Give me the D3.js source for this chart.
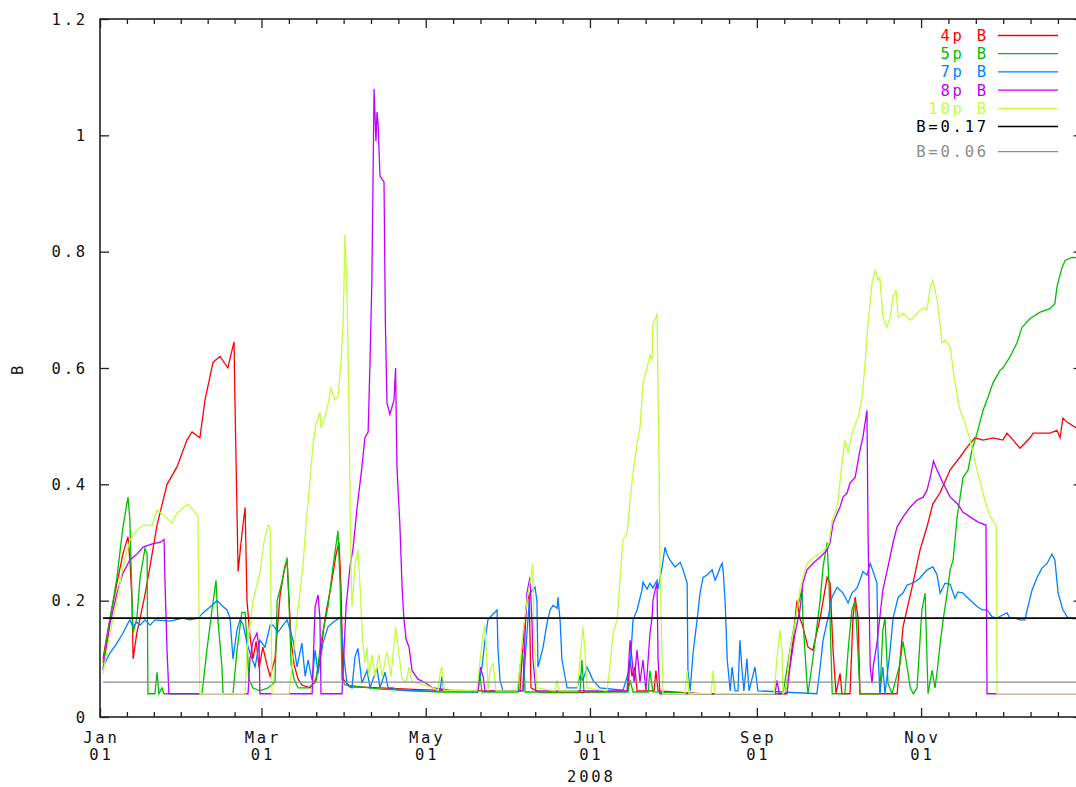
<!DOCTYPE html>
<html>
<head>
<meta charset="utf-8">
<script src="https://cdn.jsdelivr.net/npm/d3@7"></script>
<style>
  body { margin: 0; background: #fff; }
  svg text { font-family: "DejaVu Sans Mono", monospace; font-size: 15.5px; letter-spacing: 2.8px; }
  .axis line { stroke: #222; stroke-width: 1.3; }
</style>
</head>
<body>
<svg id="chart"></svg>
<script>
// values: [day of 2008 (0 = Jan 01), B]
const series4p = [[1.1,0.10],[3.7,0.17],[6.3,0.23],[8.5,0.28],[10.4,0.31],[11.1,0.27],[11.9,0.20],[12.3,0.10],[13.7,0.145],[14.9,0.17],[16.7,0.21],[18.6,0.26],[21.2,0.33],[24.9,0.40],[28.6,0.43],[32.3,0.476],[34.2,0.49],[37.1,0.48],[39.0,0.545],[42.0,0.61],[44.6,0.62],[47.5,0.60],[49.0,0.63],[49.8,0.645],[50.1,0.55],[50.9,0.35],[51.3,0.25],[52.4,0.30],[53.1,0.33],[53.9,0.36],[54.6,0.20],[55.7,0.14],[56.8,0.10],[58.0,0.13],[59.1,0.085],[60.5,0.12],[62.0,0.09],[63.2,0.07],[65.0,0.10],[66.9,0.21],[68.7,0.26],[69.5,0.266],[71.0,0.13],[72.1,0.09],[73.6,0.065],[75.0,0.055],[78.0,0.05],[80.2,0.065],[81.7,0.10],[83.6,0.17],[85.8,0.225],[87.7,0.28],[88.8,0.30],[89.5,0.225],[90.3,0.065],[92.9,0.052],[104,0.05],[118.9,0.047],[133.7,0.045],[156,0.045],[157.5,0.15],[158.6,0.20],[159.4,0.21],[159.7,0.145],[160.1,0.05],[163.4,0.042],[178.3,0.042],[196.1,0.045],[196.9,0.10],[197.6,0.07],[198.7,0.086],[199.5,0.045],[205.8,0.045],[206.5,0.08],[207.3,0.045],[222.9,0.04],[254.5,0.04],[256.3,0.09],[257.4,0.13],[258.9,0.20],[260,0.17],[261.1,0.155],[263.0,0.12],[264.8,0.115],[267.5,0.17],[270.1,0.24],[271.2,0.23],[272.3,0.115],[273.4,0.04],[274.9,0.075],[275.6,0.04],[278.6,0.04],[279.7,0.17],[280.5,0.206],[281.6,0.17],[282.3,0.04],[296.1,0.04],[298.3,0.155],[302.0,0.23],[304.6,0.287],[307.2,0.327],[309.4,0.367],[312.0,0.385],[315.8,0.425],[319.5,0.447],[322.1,0.464],[325.0,0.48],[328.0,0.476],[331.7,0.48],[335.4,0.476],[336.9,0.488],[339.2,0.476],[341.8,0.462],[345.5,0.48],[346.6,0.488],[352.9,0.488],[355.5,0.493],[356.6,0.48],[357.7,0.514],[359.2,0.507],[362.6,0.497],[364.8,0.495]];

const series5p = [[1.1,0.093],[3.7,0.167],[6.3,0.24],[8.5,0.326],[10.4,0.378],[11.1,0.34],[11.9,0.20],[12.3,0.145],[13.7,0.17],[14.9,0.24],[16.7,0.29],[17.5,0.28],[17.8,0.04],[20.4,0.04],[21.2,0.077],[21.9,0.04],[23.0,0.05],[23.8,0.04],[37.9,0.04],[39.7,0.115],[41.6,0.184],[43.1,0.235],[43.8,0.167],[45.3,0.086],[45.7,0.04],[49.4,0.04],[50.9,0.115],[52.7,0.18],[53.9,0.18],[54.6,0.13],[55.3,0.065],[56.8,0.05],[59.4,0.045],[62.4,0.05],[65.0,0.06],[65.8,0.20],[67.2,0.225],[69.5,0.274],[70.2,0.20],[71.0,0.09],[72.1,0.065],[73.6,0.05],[77.3,0.05],[80.2,0.06],[82.1,0.13],[84.7,0.19],[86.6,0.26],[88.4,0.32],[89.2,0.225],[89.9,0.065],[91.0,0.055],[104,0.048],[126.3,0.043],[140.4,0.043],[141.2,0.07],[141.9,0.043],[155.3,0.043],[156.0,0.086],[156.8,0.11],[157.5,0.086],[157.9,0.043],[178.3,0.043],[179.0,0.098],[179.8,0.043],[196.1,0.043],[196.9,0.063],[198.0,0.043],[203.6,0.043],[204.3,0.08],[205.4,0.043],[222.9,0.04],[253.7,0.04],[256.3,0.115],[258.9,0.184],[260.8,0.22],[261.1,0.17],[262.6,0.058],[263.0,0.04],[264.8,0.10],[267.5,0.20],[268.6,0.258],[270.1,0.30],[270.8,0.23],[272.0,0.04],[276.7,0.04],[277.9,0.115],[279.3,0.184],[280.5,0.20],[281.2,0.144],[282.3,0.04],[289.7,0.04],[290.8,0.15],[291.6,0.17],[292.7,0.058],[294.2,0.04],[297.1,0.09],[298.3,0.13],[299.8,0.086],[301.0,0.05],[302.1,0.04],[303.5,0.05],[305.3,0.184],[306.5,0.213],[307.2,0.10],[307.6,0.04],[309.1,0.08],[310.2,0.05],[311.0,0.08],[312.1,0.127],[313.2,0.167],[314.7,0.213],[315.8,0.253],[316.9,0.27],[318.4,0.344],[320.6,0.412],[322.4,0.424],[323.9,0.459],[325.8,0.488],[328.0,0.527],[329.9,0.55],[331.7,0.574],[334.3,0.596],[335.4,0.60],[338.0,0.619],[340.6,0.643],[342.5,0.67],[345.5,0.685],[349.2,0.696],[352.9,0.702],[354.7,0.711],[355.5,0.74],[356.6,0.76],[357.4,0.773],[358.5,0.785],[361.1,0.79],[364.8,0.789]];

const series7p = [[1.1,0.086],[3.7,0.11],[6.3,0.127],[8.5,0.144],[10.0,0.158],[11.1,0.167],[12.3,0.155],[13.7,0.163],[14.9,0.158],[16.7,0.167],[18.6,0.158],[20.4,0.167],[26.0,0.165],[30.8,0.17],[33.4,0.167],[36.4,0.17],[38.3,0.179],[41.6,0.192],[43.5,0.20],[45.7,0.19],[47.2,0.184],[48.3,0.17],[49.4,0.10],[50.9,0.15],[52.0,0.167],[53.1,0.16],[54.6,0.127],[55.7,0.11],[57.6,0.086],[59.4,0.132],[61.3,0.12],[63.2,0.158],[64.3,0.158],[66.1,0.146],[68.0,0.158],[69.5,0.167],[71.7,0.132],[73.2,0.086],[75.0,0.127],[76.2,0.07],[77.3,0.098],[78.8,0.063],[79.9,0.115],[81.0,0.075],[82.8,0.127],[84.7,0.155],[86.6,0.163],[88.8,0.17],[89.5,0.17],[90.3,0.115],[91.8,0.055],[93.6,0.05],[94.7,0.103],[95.8,0.118],[97.3,0.058],[99.2,0.08],[100.3,0.05],[102.9,0.084],[104.0,0.05],[105.9,0.077],[107.0,0.05],[108.8,0.05],[111.4,0.046],[123.7,0.044],[126.3,0.045],[127.0,0.07],[127.8,0.045],[140.0,0.043],[141.9,0.086],[143.0,0.132],[144.1,0.167],[145.6,0.175],[147.5,0.184],[147.8,0.12],[148.6,0.063],[149.7,0.045],[157.1,0.045],[158.6,0.144],[159.7,0.213],[161.6,0.223],[162.3,0.20],[162.7,0.086],[163.4,0.098],[164.6,0.12],[166.0,0.16],[167.2,0.184],[168.3,0.192],[169.8,0.187],[170.1,0.206],[170.9,0.167],[171.6,0.098],[173.5,0.05],[177.2,0.05],[178.3,0.07],[179.4,0.063],[180.9,0.086],[182.0,0.075],[183.1,0.063],[185.7,0.05],[194.3,0.046],[196.9,0.086],[198.0,0.167],[199.5,0.184],[201.3,0.218],[201.7,0.232],[203.2,0.22],[204.3,0.23],[205.4,0.222],[206.9,0.235],[207.3,0.22],[208.8,0.258],[209.9,0.292],[210.6,0.28],[211.7,0.27],[213.6,0.258],[215.5,0.266],[216.6,0.253],[218.1,0.23],[218.4,0.08],[219.2,0.045],[220.3,0.11],[221.8,0.167],[222.9,0.213],[224.0,0.24],[225.5,0.244],[227.4,0.253],[228.5,0.235],[229.6,0.247],[230.4,0.258],[231.1,0.264],[231.5,0.25],[232.2,0.20],[233.0,0.098],[234.1,0.045],[234.8,0.086],[235.9,0.045],[237.0,0.045],[237.7,0.132],[238.5,0.08],[239.2,0.045],[240.3,0.10],[241.1,0.045],[243.3,0.086],[244.4,0.045],[266.3,0.04],[267.5,0.086],[268.6,0.132],[270.4,0.17],[271.9,0.206],[273.8,0.223],[276.0,0.213],[277.9,0.196],[279.3,0.213],[281.2,0.222],[282.3,0.235],[283.4,0.25],[284.9,0.244],[286.1,0.264],[287.2,0.25],[288.6,0.23],[289.0,0.115],[289.7,0.04],[290.8,0.086],[291.6,0.04],[293.5,0.115],[294.6,0.17],[296.5,0.206],[298.3,0.213],[299.8,0.227],[302.0,0.23],[304.6,0.239],[307.2,0.253],[309.4,0.258],[310.9,0.245],[312.1,0.213],[313.9,0.23],[315.8,0.228],[317.6,0.204],[318.7,0.215],[320.6,0.213],[322.1,0.206],[323.9,0.198],[325.8,0.19],[327.7,0.184],[329.5,0.184],[331.4,0.172],[333.2,0.17],[335.1,0.175],[336.9,0.179],[338.0,0.17],[339.9,0.17],[341.8,0.167],[343.6,0.167],[344.4,0.184],[346.2,0.218],[348.1,0.24],[349.9,0.256],[351.8,0.264],[353.6,0.28],[354.7,0.27],[355.9,0.213],[357.7,0.184],[359.6,0.17],[364.8,0.168]];

const series8p = [[1.1,0.08],[3.7,0.16],[6.3,0.213],[8.5,0.247],[11.1,0.27],[13.7,0.28],[16.0,0.292],[19.7,0.298],[22.3,0.30],[23.8,0.305],[24.1,0.24],[24.9,0.115],[25.6,0.04],[55.0,0.04],[55.7,0.10],[56.8,0.13],[58.3,0.144],[59.1,0.12],[59.4,0.04],[78.8,0.04],[79.9,0.19],[81.0,0.21],[81.7,0.17],[82.1,0.04],[89.9,0.04],[91.4,0.19],[92.9,0.26],[94.0,0.29],[95.5,0.36],[97.3,0.43],[98.4,0.48],[99.6,0.49],[100.3,0.61],[101.0,0.75],[101.8,1.08],[102.5,0.99],[102.9,1.04],[103.3,1.02],[104.0,0.93],[105.5,0.92],[106.0,0.68],[106.6,0.54],[107.7,0.52],[109.2,0.545],[109.8,0.60],[110.3,0.43],[111.4,0.33],[112.2,0.225],[112.9,0.168],[113.7,0.134],[114.8,0.12],[115.9,0.08],[118.1,0.065],[121.1,0.058],[123.7,0.05],[130.0,0.046],[140.4,0.045],[141.2,0.086],[142.3,0.07],[143.0,0.045],[157.1,0.045],[157.9,0.144],[158.6,0.213],[159.7,0.24],[160.5,0.16],[160.8,0.10],[161.9,0.045],[195.8,0.045],[196.9,0.132],[197.6,0.10],[198.4,0.06],[199.5,0.115],[200.6,0.06],[201.7,0.098],[202.8,0.045],[204.3,0.144],[205.1,0.172],[205.4,0.20],[206.2,0.218],[206.9,0.23],[207.3,0.10],[208.0,0.04],[250.7,0.04],[251.5,0.063],[252.3,0.04],[255.2,0.04],[256.3,0.086],[258.2,0.144],[260.0,0.184],[261.1,0.23],[262.6,0.253],[264.8,0.264],[267.5,0.275],[270.1,0.287],[271.2,0.30],[272.3,0.333],[273.8,0.35],[274.9,0.361],[276.0,0.378],[277.5,0.385],[278.6,0.402],[280.5,0.412],[281.2,0.43],[282.3,0.459],[283.4,0.481],[284.9,0.527],[285.3,0.316],[286.1,0.086],[286.8,0.058],[287.2,0.086],[288.6,0.127],[289.7,0.172],[290.8,0.218],[292.7,0.258],[294.6,0.30],[296.1,0.327],[298.3,0.344],[301.0,0.361],[303.5,0.373],[305.8,0.378],[307.2,0.39],[308.4,0.412],[309.6,0.44],[311.0,0.424],[313.2,0.402],[315.8,0.378],[318.4,0.367],[320.6,0.352],[323.2,0.344],[326.2,0.335],[329.1,0.33],[329.5,0.04],[364.8,0.04]];

const series10p = [[1.1,0.075],[3.7,0.144],[6.3,0.20],[8.5,0.258],[11.1,0.304],[13.7,0.321],[16.0,0.33],[19.3,0.33],[21.2,0.356],[23.0,0.35],[24.9,0.342],[26.7,0.333],[28.6,0.35],[30.8,0.36],[32.7,0.366],[34.5,0.356],[36.4,0.345],[37.1,0.04],[53.9,0.04],[54.6,0.115],[56.8,0.20],[59.4,0.247],[60.9,0.30],[62.4,0.33],[63.2,0.326],[63.5,0.20],[63.9,0.04],[70.2,0.04],[72.1,0.12],[73.6,0.19],[75.4,0.26],[76.5,0.33],[77.6,0.385],[79.1,0.467],[80.2,0.503],[81.7,0.524],[82.1,0.497],[83.6,0.517],[84.7,0.538],[85.8,0.565],[87.3,0.545],[88.4,0.551],[89.5,0.608],[90.3,0.677],[91.0,0.83],[91.8,0.72],[92.5,0.524],[93.1,0.294],[93.6,0.19],[94.7,0.26],[95.8,0.287],[96.6,0.225],[97.5,0.134],[98.4,0.093],[99.2,0.12],[99.8,0.07],[101.0,0.107],[102.2,0.07],[103.5,0.107],[104.8,0.07],[106.6,0.113],[108.1,0.07],[109.8,0.155],[111.1,0.107],[112.2,0.065],[113.7,0.06],[114.8,0.086],[115.9,0.06],[118.5,0.058],[123.7,0.05],[125.6,0.046],[126.3,0.075],[127.0,0.086],[127.8,0.046],[140.0,0.045],[141.2,0.098],[142.3,0.144],[143.0,0.158],[143.8,0.09],[144.1,0.045],[144.9,0.08],[146.0,0.093],[147.1,0.045],[154.9,0.045],[156.0,0.086],[157.1,0.144],[158.6,0.20],[159.7,0.23],[160.8,0.264],[161.2,0.13],[162.3,0.05],[169.0,0.045],[169.8,0.063],[170.5,0.045],[177.2,0.045],[178.3,0.098],[179.4,0.155],[180.2,0.11],[180.9,0.05],[188.3,0.045],[189.4,0.086],[190.6,0.144],[192.1,0.167],[193.2,0.24],[194.3,0.304],[195.8,0.316],[196.9,0.373],[198.0,0.419],[199.5,0.47],[200.6,0.498],[201.7,0.574],[203.2,0.601],[204.3,0.622],[205.1,0.613],[205.4,0.677],[206.5,0.687],[206.9,0.694],[207.7,0.419],[208.0,0.258],[208.8,0.10],[209.1,0.04],[217.3,0.04],[218.1,0.08],[218.8,0.04],[227.0,0.04],[227.7,0.08],[228.5,0.04],[250.4,0.04],[251.5,0.103],[252.6,0.15],[253.4,0.11],[253.7,0.04],[254.8,0.045],[256.3,0.115],[258.2,0.162],[260.0,0.218],[261.1,0.24],[262.6,0.264],[264.8,0.273],[267.5,0.282],[270.1,0.292],[270.8,0.30],[272.0,0.339],[273.1,0.35],[274.2,0.373],[275.6,0.436],[276.7,0.476],[277.9,0.454],[278.6,0.471],[279.7,0.493],[281.6,0.515],[283.1,0.55],[284.2,0.608],[285.3,0.677],[286.8,0.746],[287.9,0.768],[289.0,0.751],[289.7,0.756],[290.8,0.687],[292.3,0.67],[293.5,0.687],[294.6,0.722],[295.7,0.734],[296.5,0.687],[298.3,0.694],[301.0,0.682],[303.5,0.694],[305.8,0.704],[307.2,0.70],[308.4,0.739],[309.4,0.751],[311.0,0.716],[312.8,0.643],[313.9,0.648],[315.8,0.636],[317.6,0.574],[319.5,0.527],[321.3,0.505],[323.2,0.476],[325.8,0.424],[328.8,0.37],[330.6,0.345],[332.9,0.33],[333.2,0.04],[364.8,0.04]];

// horizontal reference levels and the day span they cover
const refLevels = [0.17, 0.06];
const refSpan = [1.1, 364.8];

const seriesLabels = ['4p B', '5p B', '7p B', '8p B', '10p B', 'B=0.17', 'B=0.06'];
const seriesColors = ['#ff0000', '#00c000', '#0080ff', '#c000ff', '#c0ff40', '#000000', '#8c8c8c'];

const yTicks = [0, 0.2, 0.4, 0.6, 0.8, 1, 1.2];
const monthTicks = ['2008-01-01', '2008-03-01', '2008-05-01', '2008-07-01', '2008-09-01', '2008-11-01', '2009-01-01'];
const monthNames = ['Jan', 'Mar', 'May', 'Jul', 'Sep', 'Nov'];
const dayNames = ['01', '01', '01', '01', '01', '01'];

class LineChart {

  constructor(_config) {
    this.config = {
      parentElement: _config.parentElement,
      containerWidth: 1076,
      containerHeight: 787,
      margin: { top: 19, right: -6.6, bottom: 70, left: 100 },
      minorPerMajor: 6
    };
    this.initVis();
  }

  initVis() {
    let vis = this;
    vis.width = vis.config.containerWidth - vis.config.margin.left - vis.config.margin.right;
    vis.height = vis.config.containerHeight - vis.config.margin.top - vis.config.margin.bottom;

    vis.start = new Date(Date.UTC(2008, 0, 1));
    vis.toDate = d => new Date(vis.start.getTime() + d * 864e5);

    vis.xScale = d3.scaleUtc()
      .domain([vis.start, new Date(Date.UTC(2008, 11, 31))])
      .range([0, vis.width]);

    vis.yScale = d3.scaleLinear()
      .domain([0, 1.2])
      .range([vis.height, 0]);

    vis.svg = d3.select(vis.config.parentElement)
      .attr('width', vis.config.containerWidth)
      .attr('height', vis.config.containerHeight);

    vis.chart = vis.svg.append('g')
      .attr('transform', `translate(${vis.config.margin.left},${vis.config.margin.top})`);

    vis.chart.append('clipPath')
      .attr('id', 'plot-clip')
      .append('rect')
      .attr('width', vis.width)
      .attr('height', vis.height);

    vis.line = d3.line()
      .x(d => vis.xScale(vis.toDate(d[0])))
      .y(d => vis.yScale(d[1]));

    vis.updateVis();
  }

  updateVis() {
    let vis = this;
    vis.lineData = [series4p, series5p, series7p, series8p, series10p]
      .concat(refLevels.map(v => [[refSpan[0], v], [refSpan[1], v]]));

    vis.majorDates = monthTicks.map(s => new Date(s + 'T00:00:00Z'));
    // minor ticks split every two-month interval into equal parts
    vis.minorDates = [];
    for (let i = 0; i < vis.majorDates.length - 1; i++) {
      const a = vis.majorDates[i].getTime(), b = vis.majorDates[i + 1].getTime();
      for (let k = 1; k < vis.config.minorPerMajor; k++) {
        const t = a + (b - a) * k / vis.config.minorPerMajor;
        if (t <= vis.xScale.domain()[1].getTime()) vis.minorDates.push(new Date(t));
      }
    }
    vis.majorDates = vis.majorDates.filter(d => d <= vis.xScale.domain()[1]);
    vis.renderVis();
  }

  renderVis() {
    let vis = this;

    // tick marks, all pointing into the plot
    const axes = [
      { g: d3.axisBottom(vis.xScale).tickValues(vis.majorDates).tickSize(-9), t: `translate(0,${vis.height})` },
      { g: d3.axisBottom(vis.xScale).tickValues(vis.minorDates).tickSize(-5), t: `translate(0,${vis.height})` },
      { g: d3.axisTop(vis.xScale).tickValues(vis.majorDates).tickSize(-9), t: 'translate(0,0)' },
      { g: d3.axisTop(vis.xScale).tickValues(vis.minorDates).tickSize(-5), t: 'translate(0,0)' },
      { g: d3.axisLeft(vis.yScale).tickValues(yTicks).tickSize(-9), t: 'translate(0,0)' },
      { g: d3.axisRight(vis.yScale).tickValues(yTicks).tickSize(-9), t: `translate(${vis.width},0)` }
    ];
    axes.forEach(a => {
      vis.chart.append('g')
        .attr('class', 'axis')
        .attr('transform', a.t)
        .call(a.g.tickSizeOuter(0).tickFormat(''))
        .call(g => g.select('.domain').remove())
        .call(g => g.selectAll('text').remove());
    });

    vis.chart.append('g')
      .attr('clip-path', 'url(#plot-clip)')
      .selectAll('.series')
      .data(vis.lineData)
      .join('path')
      .attr('class', 'series')
      .attr('fill', 'none')
      .attr('stroke', (d, i) => seriesColors[i])
      .attr('stroke-width', (d, i) => i === 5 ? 1.6 : 1.3)
      .attr('stroke-linejoin', 'miter')
      .attr('d', vis.line);

    // frame
    vis.chart.append('rect')
      .attr('width', vis.width)
      .attr('height', vis.height)
      .attr('fill', 'none')
      .attr('stroke', '#222')
      .attr('stroke-width', 1.6);

    // y tick labels
    vis.chart.selectAll('.y-label')
      .data(yTicks)
      .join('text')
      .attr('class', 'y-label')
      .attr('x', -12)
      .attr('y', d => vis.yScale(d) + 5.5)
      .attr('text-anchor', 'end')
      .attr('fill', '#111')
      .text(d => String(d));

    // x tick labels, two lines each
    const xl = vis.chart.selectAll('.x-label')
      .data(vis.majorDates)
      .join('text')
      .attr('class', 'x-label')
      .attr('text-anchor', 'middle')
      .attr('fill', '#111');
    xl.append('tspan')
      .attr('x', d => vis.xScale(d) + 1.4)
      .attr('y', vis.height + 26)
      .text((d, i) => monthNames[i]);
    xl.append('tspan')
      .attr('x', d => vis.xScale(d) + 1.4)
      .attr('y', vis.height + 43)
      .text((d, i) => dayNames[i]);

    vis.chart.append('text')
      .attr('x', vis.xScale(new Date(Date.UTC(2008, 6, 1))) + 1.4)
      .attr('y', vis.height + 65)
      .attr('text-anchor', 'middle')
      .attr('fill', '#111')
      .text('2008');

    vis.svg.append('text')
      .attr('transform', 'translate(22.5,369) rotate(-90)')
      .attr('text-anchor', 'middle')
      .attr('fill', '#111')
      .text('B');

    // key
    const rowY = i => 35.5 + i * 18.2 + (i === 6 ? 7 : 0);
    const key = vis.svg.append('g').attr('class', 'key');
    key.selectAll('text')
      .data(seriesLabels)
      .join('text')
      .attr('x', 989)
      .attr('y', (d, i) => rowY(i) + 5.5)
      .attr('text-anchor', 'end')
      .attr('fill', (d, i) => seriesColors[i])
      .text(d => d);
    key.selectAll('line')
      .data(seriesLabels)
      .join('line')
      .attr('x1', 998)
      .attr('x2', 1058)
      .attr('y1', (d, i) => rowY(i))
      .attr('y2', (d, i) => rowY(i))
      .attr('stroke', (d, i) => seriesColors[i])
      .attr('stroke-width', (d, i) => i === 5 ? 1.6 : 1.3);
  }
}

const chart = new LineChart({ parentElement: '#chart' });
</script>
</body>
</html>
